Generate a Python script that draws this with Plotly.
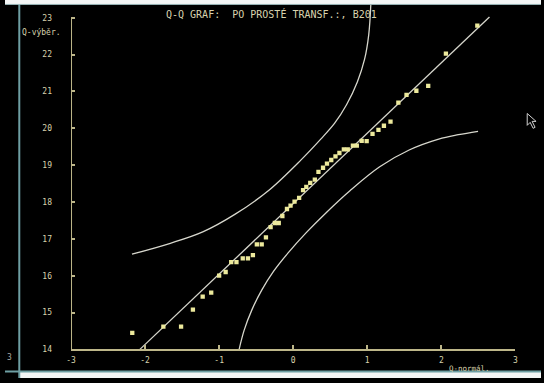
import plotly.graph_objects as go

W, H = 544, 383

# ---- data ----
q_norm = [-2.173, -1.753, -1.514, -1.354, -1.222, -1.107, -1.000, -0.912, -0.837, -0.766,
          -0.681, -0.611, -0.544, -0.491, -0.425, -0.368, -0.305, -0.248, -0.195, -0.146,
          -0.084, -0.036, 0.018, 0.080, 0.133, 0.177, 0.230, 0.292, 0.341, 0.403,
          0.456, 0.514, 0.571, 0.624, 0.684, 0.737, 0.806, 0.859, 0.925, 0.992,
          1.071, 1.151, 1.225, 1.314, 1.420, 1.530, 1.663, 1.823, 2.062, 2.486]
q_sample = [14.45, 14.62, 14.62, 15.08, 15.43, 15.54, 16.00, 16.10, 16.37, 16.37,
            16.47, 16.47, 16.56, 16.85, 16.85, 17.04, 17.32, 17.43, 17.43, 17.62,
            17.81, 17.90, 18.01, 18.11, 18.32, 18.41, 18.52, 18.61, 18.82, 18.93,
            19.04, 19.14, 19.24, 19.33, 19.43, 19.43, 19.53, 19.53, 19.66, 19.65,
            19.85, 19.96, 20.07, 20.18, 20.70, 20.91, 21.02, 21.15, 22.03, 22.79]

fit_x = [-2.07, 2.65]
fit_y = [14.0, 23.02]

upper_x = [-2.177, -1.659, -1.221, -0.783, -0.332, 0.106, 0.372, 0.560, 0.720, 0.866, 0.964, 1.020, 1.049]
upper_y = [16.585, 16.880, 17.188, 17.670, 18.313, 19.143, 19.706, 20.140, 20.640, 21.260, 21.876, 22.545, 23.40]

lower_x = [-0.730, -0.664, -0.558, -0.425, -0.266, -0.066, 0.173, 0.438, 0.770, 1.168, 1.566, 1.965, 2.230, 2.496]
lower_y = [14.0, 14.509, 15.072, 15.607, 16.116, 16.625, 17.161, 17.697, 18.313, 18.956, 19.411, 19.706, 19.826, 19.920]

x_ticks = [-3, -2, -1, 0, 1, 2, 3]
y_ticks = [14, 15, 16, 17, 18, 19, 20, 21, 22, 23]

title_text = "Q-Q GRAF:  PO PROSTÉ TRANSF.:, B201"
y_label = "Q-výběr."
x_label = "Q-normál."

# ---- styling ----
AXIS_C = "#bdb689"
TEXT_C = "#d8d3ae"
CURVE_C = "#d6d6cc"
PT_C = "#ece99c"
TEAL = "#6e9fa3"
MONO = "DejaVu Sans Mono"


def px(x):
    return x / W


def py(y):
    return 1 - y / H


X_LEFT, X_RIGHT = 67, 518
Y_BOTTOM, Y_TOP = 354, 3
PX_PER_Y = 37.33
y_range = [14, 14 + (Y_BOTTOM - Y_TOP) / PX_PER_Y]

fig = go.Figure()
fig.add_trace(go.Scatter(x=upper_x, y=upper_y, mode="lines",
                         line=dict(color=CURVE_C, width=1.3, shape="spline", smoothing=1.0),
                         hoverinfo="skip"))
fig.add_trace(go.Scatter(x=lower_x, y=lower_y, mode="lines",
                         line=dict(color=CURVE_C, width=1.3, shape="spline", smoothing=1.0),
                         hoverinfo="skip"))
fig.add_trace(go.Scatter(x=fit_x, y=fit_y, mode="lines",
                         line=dict(color=CURVE_C, width=1.3), hoverinfo="skip"))
fig.add_trace(go.Scatter(x=q_norm, y=q_sample, mode="markers",
                         marker=dict(symbol="square", size=4.3, color=PT_C, line=dict(width=0))))

shapes = [
    # y-axis line (only up to 23)
    dict(type="line", xref="x", yref="y", x0=-3, x1=-3, y0=14, y1=23,
         line=dict(color=AXIS_C, width=2)),
    # white top band
    dict(type="rect", xref="paper", yref="paper", x0=0, x1=1, y0=py(4), y1=1,
         fillcolor="#f4f6f6", line=dict(width=0)),
    # white bottom band
    dict(type="rect", xref="paper", yref="paper", x0=px(15), x1=1, y0=0, y1=py(377),
         fillcolor="#f4f6f6", line=dict(width=0)),
    # teal frame lines
    dict(type="line", xref="paper", yref="paper", x0=px(14.5), x1=px(14.5), y0=0, y1=py(4),
         line=dict(color=TEAL, width=2)),
    dict(type="line", xref="paper", yref="paper", x0=0, x1=1, y0=py(376.5), y1=py(376.5),
         line=dict(color=TEAL, width=2)),
    dict(type="line", xref="paper", yref="paper", x0=0, x1=1, y0=py(4.5), y1=py(4.5),
         line=dict(color="#9fbcbe", width=1)),
]

# mouse cursor (decoration)
cur = [(530, 115), (530, 127), (533, 124), (536, 130), (538, 129), (535, 123), (539, 123)]
path = "M " + " L ".join(f"{px(a):.5f},{py(b):.5f}" for a, b in cur) + " Z"
shapes.append(dict(type="path", xref="paper", yref="paper", path=path,
                   fillcolor="#000000", line=dict(color="#d0d0d0", width=1)))

annotations = [
    dict(text=title_text, xref="paper", yref="paper", x=px(270), y=py(14),
         showarrow=False, font=dict(family=MONO, size=10, color=TEXT_C),
         xanchor="center", yanchor="middle"),
    dict(text=y_label, xref="paper", yref="paper", x=px(37), y=py(33),
         showarrow=False, font=dict(family=MONO, size=8, color=TEXT_C),
         xanchor="center", yanchor="middle"),
    dict(text=x_label, xref="paper", yref="paper", x=px(449), y=py(373.5),
         showarrow=False, font=dict(family=MONO, size=7.5, color=TEXT_C),
         xanchor="left", yanchor="middle"),
    dict(text="3", xref="paper", yref="paper", x=px(5), y=py(362),
         showarrow=False, font=dict(family=MONO, size=8, color="#a8a8a0"),
         xanchor="center", yanchor="middle"),
]

fig.update_layout(
    width=W, height=H,
    margin=dict(l=0, r=0, t=0, b=0),
    paper_bgcolor="#000000", plot_bgcolor="rgba(0,0,0,0)",
    showlegend=False,
    shapes=shapes, annotations=annotations,
    xaxis=dict(domain=[px(X_LEFT), px(X_RIGHT)], range=[-3, 3],
               showline=True, linecolor=AXIS_C, linewidth=2,
               ticks="inside", ticklen=4, tickwidth=1.5, tickcolor=AXIS_C,
               tickvals=x_ticks, ticktext=[str(v) for v in x_ticks],
               tickfont=dict(family=MONO, size=8, color=TEXT_C),
               ticklabelstandoff=2,
               showgrid=False, zeroline=False, fixedrange=True),
    yaxis=dict(domain=[py(Y_BOTTOM), py(Y_TOP)], range=y_range,
               showline=False,
               ticks="inside", ticklen=4, tickwidth=1.5, tickcolor=AXIS_C,
               tickvals=y_ticks, ticktext=[str(v) for v in y_ticks],
               tickfont=dict(family=MONO, size=8, color=TEXT_C),
               ticklabelstandoff=18,
               showgrid=False, zeroline=False, fixedrange=True),
)

fig.write_html("out.html")
